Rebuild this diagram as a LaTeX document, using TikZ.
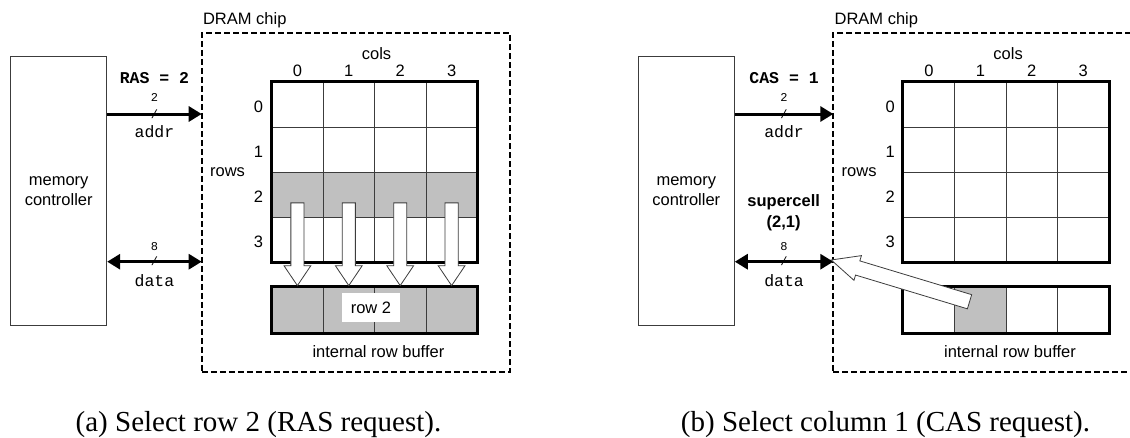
\documentclass[tikz,border=0pt]{standalone}
\usepackage{fontspec}
\setmainfont{Liberation Serif}
\setsansfont{Liberation Sans}
\setmonofont{Liberation Mono}
\usetikzlibrary{arrows.meta, positioning, shapes.arrows}

\definecolor{cellgray}{RGB}{192,192,192}
\definecolor{edgegray}{RGB}{60,60,60}

\begin{document}
\begin{tikzpicture}[
		x=1pt, y=-1pt,
		lbl/.style={font=\sffamily\fontsize{16.5}{20}\selectfont, inner sep=0pt},
		ctrl/.style={rectangle, draw=edgegray, line width=1pt, minimum width=96pt, minimum height=269pt, align=center, font=\sffamily\fontsize{16.5}{20}\selectfont},
		chip/.style={rectangle, draw=black, line width=2pt, dash pattern=on 6pt off 3pt, minimum width=308pt, minimum height=339pt},
		cell/.style={rectangle, draw=edgegray, line width=0.8pt, minimum width=51.4pt, minimum height=45pt, inner sep=0pt},
		bufcell/.style={cell, minimum height=46pt},
		frame/.style={draw=black, line width=3pt},
		bus/.style={line width=3pt, -{Triangle[length=13pt, width=15pt]}},
		bibus/.style={line width=3pt, {Triangle[length=13pt, width=15pt]}-{Triangle[length=13pt, width=15pt]}},
		busname/.style={font=\ttfamily\fontsize{16.5}{20}\selectfont, inner sep=0pt},
		busreq/.style={font=\ttfamily\bfseries\fontsize{16.5}{20}\selectfont, inner sep=0pt},
		buswidth/.style={font=\ttfamily\fontsize{12}{14}\selectfont, inner sep=0pt},
		shiftarrow/.style={single arrow, draw=edgegray, fill=white, line width=0.8pt, inner xsep=0pt, inner ysep=6.15pt, single arrow head extend=6.85pt, single arrow tip angle=68, minimum height=82.7pt, anchor=tip, rotate=-90},
		fetcharrow/.style={single arrow, draw=edgegray, fill=white, line width=0.8pt, inner xsep=0pt, inner ysep=7pt, single arrow head extend=5.5pt, single arrow tip angle=50, minimum height=144.5pt, anchor=tip},
		caption/.style={font=\rmfamily\fontsize{29}{34}\selectfont, inner sep=0pt, anchor=base}
		]
		\useasboundingbox (0,0) rectangle (1130,437);
		
		% (a) row access
		\node[ctrl] (a-mc) at (58.7,191.35) {memory\\controller};
		\node[chip] (a-chip) at (355.85,202.35) {};
		\node[lbl, above right=3.5pt and 2pt of a-chip.north west] (a-chipname) {DRAM chip};
		
		\foreach \r/\f in {0/white,1/white,2/cellgray,3/white}
			\foreach \c in {0,...,3}
				\node[cell, fill=\f] (a-\r\c) at (297.4+51.4*\c, 104.5+45*\r) {};
		\draw[frame] (a-00.north west) rectangle (a-33.south east);
		\foreach \c in {0,...,3}
			\node[lbl, above=5pt of a-0\c] (a-col\c) {\c};
		\foreach \r in {0,...,3}
			\node[lbl, left=8pt of a-\r0, yshift=-2pt] (a-row\r) {\r};
		\node[lbl] (a-cols) at (376.5,54) {cols};
		\node[lbl] (a-rows) at (227.5,172) {rows};
		
		\foreach \c in {0,...,3}
			\node[bufcell, fill=cellgray] (a-b\c) at (297.4+51.4*\c, 309.7) {};
		\draw[frame] (a-b0.north west) rectangle (a-b3.south east);
		\node[lbl, fill=white, minimum width=58pt, minimum height=29pt] (a-rowtag) at (371,307.5) {row 2};
		\node[lbl, below=12pt of a-b1.south east, xshift=3.5pt] (a-bufname) {internal row buffer};
		
		\foreach \c in {0,...,3}
			\node[shiftarrow] (a-move\c) at (a-b\c.north) {};
		
		\coordinate (a-aport) at (201.7,114);
		\coordinate (a-dport) at (201.7,261.7);
		\draw[bus] (a-mc.east |- a-aport) -- (a-aport)
			node[midway, buswidth] (a-aslash) {/}
			node[midway, buswidth, above=11pt] (a-awidth) {2}
			node[midway, busname, below=10pt] (a-aname) {addr}
			node[midway, busreq, above=29pt] (a-ras) {RAS = 2};
		\draw[bibus] (a-mc.east |- a-dport) -- (a-dport)
			node[midway, buswidth] (a-dslash) {/}
			node[midway, buswidth, above=10pt] (a-dwidth) {8}
			node[midway, busname, below=11pt] (a-dname) {data};
		
		\node[caption] (a-cap) at (258.5,431) {(a) Select row 2 (RAS request).};
		
		% (b) column access
		\node[ctrl] (b-mc) at (686.3,191.35) {memory\\controller};
		\node[chip] (b-chip) at (987.45,202.35) {};
		\node[lbl, above right=3.5pt and 2pt of b-chip.north west] (b-chipname) {DRAM chip};
		
		\foreach \r in {0,...,3}
			\foreach \c in {0,...,3}
				\node[cell, fill=white] (b-\r\c) at (929+51.4*\c, 104.5+45*\r) {};
		\draw[frame] (b-00.north west) rectangle (b-33.south east);
		\foreach \c in {0,...,3}
			\node[lbl, above=5pt of b-0\c] (b-col\c) {\c};
		\foreach \r in {0,...,3}
			\node[lbl, left=8pt of b-\r0, yshift=-2pt] (b-row\r) {\r};
		\node[lbl] (b-cols) at (1008.1,54) {cols};
		\node[lbl] (b-rows) at (859.1,172) {rows};
		
		\foreach \c/\f in {0/white,1/cellgray,2/white,3/white}
			\node[bufcell, fill=\f] (b-b\c) at (929+51.4*\c, 309.7) {};
		\draw[frame] (b-b0.north west) rectangle (b-b3.south east);
		\node[lbl, below=12pt of b-b1.south east, xshift=3.5pt] (b-bufname) {internal row buffer};
		
		\coordinate (b-aport) at (833.3,114);
		\coordinate (b-dport) at (833.3,261.7);
		\draw[bus] (b-mc.east |- b-aport) -- (b-aport)
			node[midway, buswidth] (b-aslash) {/}
			node[midway, buswidth, above=11pt] (b-awidth) {2}
			node[midway, busname, below=10pt] (b-aname) {addr}
			node[midway, busreq, above=29pt] (b-cas) {CAS = 1};
		\draw[bibus] (b-mc.east |- b-dport) -- (b-dport)
			node[midway, buswidth] (b-dslash) {/}
			node[midway, buswidth, above=10pt] (b-dwidth) {8}
			node[midway, busname, below=11pt] (b-dname) {data};
		\node[lbl, font=\sffamily\bfseries\fontsize{16.5}{21}\selectfont, align=center] (b-super) at (783.7,213) {supercell\\(2,1)};
		
		\node[fetcharrow, rotate=163.2] (b-fetch) at ([xshift=-3pt, yshift=2pt]b-dport) {};
		
		\node[caption] (b-cap) at (885.5,431) {(b) Select column 1 (CAS request).};
		
	\end{tikzpicture}
\end{document}
